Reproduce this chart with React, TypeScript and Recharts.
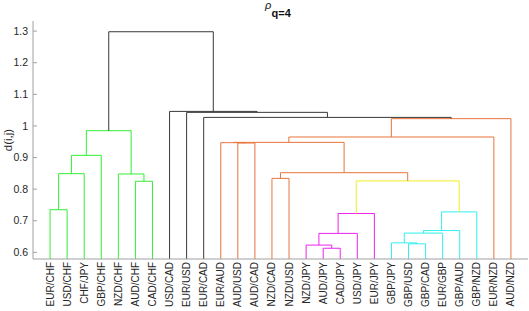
import { LineChart, Line, XAxis, YAxis } from "recharts";

const leafLabels = [
  "EUR/CHF", "USD/CHF", "CHF/JPY", "GBP/CHF", "NZD/CHF", "AUD/CHF", "CAD/CHF",
  "USD/CAD", "EUR/USD", "EUR/CAD", "EUR/AUD", "AUD/USD", "AUD/CAD", "NZD/CAD",
  "NZD/USD", "NZD/JPY", "AUD/JPY", "CAD/JPY", "USD/JPY", "EUR/JPY", "GBP/JPY",
  "GBP/USD", "GBP/CAD", "EUR/GBP", "GBP/AUD", "GBP/NZD", "EUR/NZD", "AUD/NZD",
];

// linkage rows: indices < 28 are leaves, 28 + k is the k-th merge below
const mergePairs: [number, number][] = [
  [16, 17], [15, 28], [21, 22], [20, 30], [29, 18], [31, 23], [33, 24],
  [32, 19], [34, 25], [0, 1], [35, 36], [5, 6], [13, 14], [37, 2],
  [4, 39], [40, 38], [41, 3], [11, 12], [10, 45], [46, 43], [47, 26],
  [44, 42], [48, 27], [9, 50], [8, 51], [7, 52], [49, 53],
];

const mergeHeights = [
  0.613, 0.623, 0.627, 0.63, 0.66, 0.661, 0.669,
  0.723, 0.728, 0.735, 0.826, 0.825, 0.834, 0.849,
  0.848, 0.852, 0.907, 0.946, 0.947, 0.948, 0.965,
  0.985, 1.023, 1.027, 1.043, 1.046, 1.298,
];

const mergeGroups = [
  "magenta", "magenta", "cyan", "cyan", "magenta", "cyan", "cyan",
  "magenta", "cyan", "green", "yellow", "green", "orange", "green",
  "green", "orange", "green", "orange", "orange", "orange", "orange",
  "green", "orange", "black", "black", "black", "black",
];

const yTicks = [0.6, 0.7, 0.8, 0.9, 1, 1.1, 1.2, 1.3];
const yMin = 0.579;
const yMax = 1.332;

const groupColors: Record<string, string> = {
  green: "#33ee33",
  orange: "#e8743b",
  yellow: "#f0ee22",
  magenta: "#ee22ee",
  cyan: "#33eeee",
  black: "#383838",
};

const n = leafLabels.length;
const nodeX: number[] = leafLabels.map((_, i) => i + 1);
const nodeY: number[] = leafLabels.map(() => yMin);
mergePairs.forEach(([a, b], k) => {
  nodeX[n + k] = (nodeX[a] + nodeX[b]) / 2;
  nodeY[n + k] = mergeHeights[k];
});

const links = mergePairs.map(([a, b], k) => ({
  color: groupColors[mergeGroups[k]],
  points: [
    { x: nodeX[a], y: nodeY[a] },
    { x: nodeX[a], y: mergeHeights[k] },
    { x: nodeX[b], y: mergeHeights[k] },
    { x: nodeX[b], y: nodeY[b] },
  ],
}));

function LeafTick({ x, y, payload }: any) {
  return (
    <text
      transform={`translate(${x},${y}) rotate(-90)`}
      textAnchor="end"
      dominantBaseline="central"
      fontSize={10}
      fill="#262626"
    >
      {leafLabels[payload.value - 1]}
    </text>
  );
}

export default function App() {
  return (
    <div
      style={{
        position: "absolute",
        left: 0,
        top: 0,
        width: 529,
        height: 311,
        background: "#fff",
        fontFamily: "'Liberation Sans', Arial, sans-serif",
      }}
    >
      <LineChart width={529} height={311} margin={{ top: 21, right: 1, bottom: 0, left: 0 }}>
        <XAxis
          type="number"
          dataKey="x"
          domain={[0, 29]}
          allowDataOverflow
          ticks={leafLabels.map((_, i) => i + 1)}
          interval={0}
          tickLine={false}
          tickSize={0}
          tickMargin={3}
          height={52}
          axisLine={{ stroke: "#a0a0a0" }}
          tick={<LeafTick />}
        />
        <YAxis
          type="number"
          dataKey="y"
          domain={[yMin, yMax]}
          allowDataOverflow
          ticks={yTicks}
          tickFormatter={(v) => String(v)}
          width={33}
          tickSize={-4}
          tickMargin={9}
          axisLine={{ stroke: "#a0a0a0" }}
          tickLine={{ stroke: "#a0a0a0" }}
          tick={{ fontSize: 10.5, fill: "#262626" }}
        />
        {links.map((link, i) => (
          <Line
            key={i}
            data={link.points}
            dataKey="y"
            type="linear"
            stroke={link.color}
            strokeWidth={1}
            dot={false}
            activeDot={false}
            isAnimationActive={false}
          />
        ))}
      </LineChart>
      <svg
        width={529}
        height={311}
        style={{ position: "absolute", left: 0, top: 0, pointerEvents: "none" }}
      >
        <text x={265} y={9} fontSize={11} fontStyle="italic" fill="#111">
          ρ
        </text>
        <text x={271.5} y={17} fontSize={11} fontWeight="bold" fill="#111">
          q=4
        </text>
        <text
          transform="translate(8,140) rotate(-90)"
          textAnchor="middle"
          dominantBaseline="central"
          fontSize={11.5}
          fill="#262626"
        >
          d(i,j)
        </text>
      </svg>
    </div>
  );
}
